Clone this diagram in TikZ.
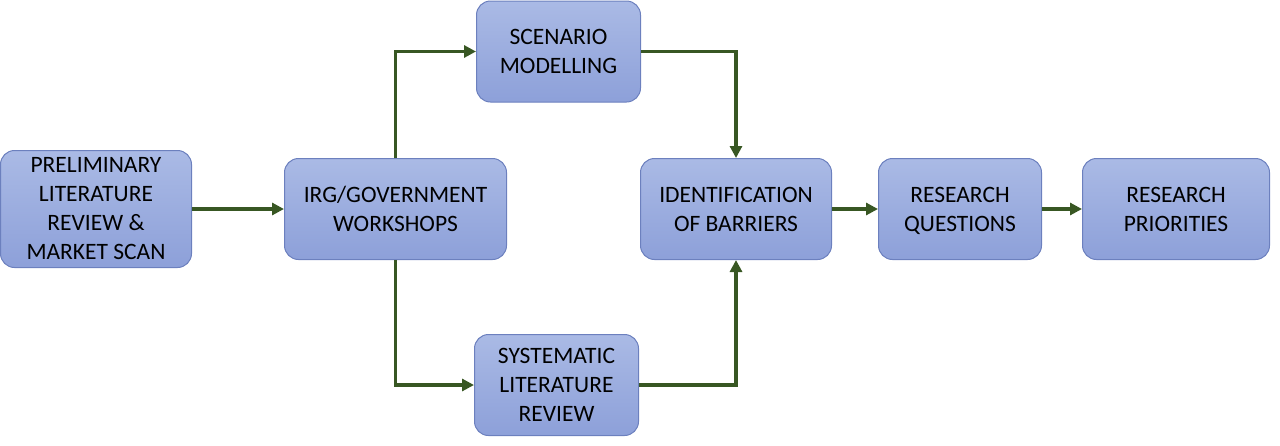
\documentclass[tikz,border=0pt]{standalone}
\usepackage{fontspec}
\setmainfont{Carlito}
\usepackage{xcolor}
\usepackage{tikz}
\usetikzlibrary{arrows.meta}

\definecolor{boxtop}{RGB}{170,186,229}
\definecolor{boxbot}{RGB}{141,160,217}
\definecolor{boxline}{RGB}{108,128,190}
\definecolor{flow}{RGB}{56,87,35}

\begin{document}
\begin{tikzpicture}[x=1pt, y=-1pt, semithick,
  stage/.style={draw=boxline, line width=1pt, rounded corners=14pt, top color=boxtop, bottom color=boxbot,
    align=center, inner sep=2pt, text=black, font=\fontsize{23.5}{29}\selectfont},
  link/.style={draw=flow, line width=3.6pt, -{Triangle[length=12pt, width=12pt]}}]
\useasboundingbox (0,0) rectangle (1280,445);

\node [stage, minimum width=191pt, minimum height=117pt] (prelim) at (96,209) {PRELIMINARY\\LITERATURE\\REVIEW \&\\MARKET SCAN};
\node [stage, minimum width=222pt, minimum height=101pt] (irg) at (395.5,209) {IRG/GOVERNMENT\\WORKSHOPS};
\node [stage, minimum width=164pt, minimum height=101pt] (scen) at (558.5,51.5) {SCENARIO\\MODELLING};
\node [stage, minimum width=164pt, minimum height=101pt] (sys) at (556.5,385) {SYSTEMATIC\\LITERATURE\\REVIEW};
\node [stage, minimum width=191pt, minimum height=101pt] (ident) at (736,209) {IDENTIFICATION\\OF BARRIERS};
\node [stage, minimum width=163pt, minimum height=101pt] (rq) at (960,209) {RESEARCH\\\smash{Q}UESTIONS};
\node [stage, minimum width=187pt, minimum height=101pt] (rp) at (1176,209) {RESEARCH\\PRIORITIES};

\path [link] (prelim) -- (irg);
\path [link] (irg.north) |- (scen.west);
\path [link] (irg.south) |- (sys.west);
\path [link] (scen.east) -| (ident.north);
\path [link] (sys.east) -| (ident.south);
\path [link] (ident) -- (rq);
\path [link] (rq) -- (rp);
\end{tikzpicture}
\end{document}
